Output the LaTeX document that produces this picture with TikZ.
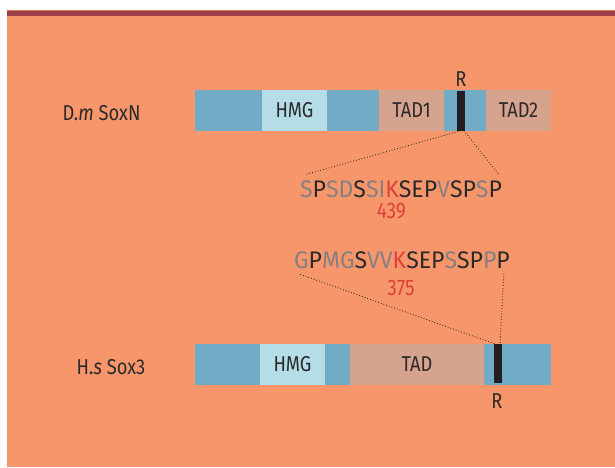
\documentclass[tikz,border=0pt]{standalone}
\usepackage{fontspec}
\setmainfont{Fira Sans}
\newfontfamily\labfont{Fira Sans}[FakeStretch=0.85]
\newfontfamily\seqfont{Fira Sans}[FakeStretch=0.96]
\usetikzlibrary{calc}
\definecolor{bgorange}{HTML}{F7966B}
\definecolor{stripe}{HTML}{9E4049}
\definecolor{stripeline}{HTML}{E07850}
\definecolor{segblue}{HTML}{72ABC6}
\definecolor{seglight}{HTML}{B5DDE8}
\definecolor{segtan}{HTML}{D6A48E}
\definecolor{barblack}{HTML}{231F20}
\definecolor{txt}{HTML}{2A2A2A}
\definecolor{seqgray}{HTML}{858080}
\definecolor{seqred}{HTML}{E0403A}
\newcommand\gy[1]{\textcolor{seqgray}{#1}}
\newcommand\bk[1]{\textcolor{txt}{#1}}
\newcommand\rd[1]{\textcolor{seqred}{#1}}
\begin{document}
\begin{tikzpicture}[x=1pt,y=-1pt,
  seg/.style={inner sep=0pt, outer sep=0pt, minimum height=41pt, anchor=north west, text=txt,
    font=\labfont\fontsize{21.5}{22}\selectfont},
  rbar/.style={inner sep=0pt, outer sep=0pt, minimum width=8pt, fill=barblack, anchor=north west},
  lab/.style={inner sep=0pt, outer sep=0pt, anchor=base, text=txt, font=\labfont\fontsize{21.5}{22}\selectfont},
  seqtext/.style={inner sep=0pt, outer sep=0pt, anchor=base, font=\seqfont\fontsize{24}{25}\selectfont},
  numtext/.style={inner sep=0pt, outer sep=0pt, anchor=base, text=seqred, font=\labfont\fontsize{22.5}{23}\selectfont},
  link/.style={draw=txt, line width=0.85pt, dotted}
]
\useasboundingbox (0,0) rectangle (615,467);
\fill[white] (0,0) rectangle (615,467);
\fill[bgorange] (7,9.7) rectangle (615,467);
\fill[stripeline] (7,9.7) rectangle (615,10.7);
\fill[stripe] (7,10.7) rectangle (615,16);

% top protein
\node[seg, fill=segblue, minimum width=67pt] (b1) at (195,90) {};
\node[seg, fill=seglight, minimum width=65pt] (hmg1) at (262,90) {HMG};
\node[seg, fill=segblue, minimum width=52pt] (b2) at (327,90) {};
\node[seg, fill=segtan, minimum width=65pt] (tad1) at (379,90) {TAD1};
\node[seg, fill=segblue, minimum width=42pt] (b3) at (444,90) {};
\node[seg, fill=segtan, minimum width=65pt] (tad2) at (486,90) {TAD2};
\node[rbar, minimum height=40pt] (r1) at (457,90.7) {};
\node[lab] (rl1) at (461,86.7) {R};
\node[lab] (dm) at (101.5,120.7) {D.\textit{m} SoxN};

% sequences
\node[seqtext] (seq1) at (401,197.5) {\gy{S}\bk{P}\gy{S}\gy{D}\bk{S}\gy{S}\gy{I}\rd{K}\bk{S}\bk{E}\bk{P}\gy{V}\bk{S}\bk{P}\gy{S}\bk{P}};
\node[numtext] (n439) at (391.4,218.5) {439};
\node[seqtext] (seq2) at (402,268.5) {\gy{G}\bk{P}\gy{M}\gy{G}\bk{S}\gy{V}\gy{V}\rd{K}\bk{S}\bk{E}\bk{P}\gy{S}\bk{S}\bk{P}\gy{P}\bk{P}};
\node[numtext] (n375) at (401,295) {375};

% bottom protein
\node[seg, fill=segblue, minimum width=65pt] (c1) at (195,344) {};
\node[seg, fill=seglight, minimum width=65pt] (hmg2) at (260,344) {HMG};
\node[seg, fill=segblue, minimum width=25pt] (c2) at (325,344) {};
\node[seg, fill=segtan, minimum width=134pt] (tad) at (350,344) {TAD};
\node[seg, fill=segblue, minimum width=67pt] (c3) at (484,344) {};
\node[rbar, minimum height=39.3pt] (r2) at (494,344) {};
\node[lab] (rl2) at (497,408) {R};
\node[lab] (hs) at (111,374) {H.\textit{s} Sox3};

% connectors
\draw[link] ($(r1.south)+(0,0)$) -- ($(seq1.north west)+(5,-6)$);
\draw[link] ($(r1.south)+(3,0)$) -- ($(seq1.north east)+(-3,-6)$);
\draw[link] ($(seq2.south west)+(6,5.5)$) -- ($(r2.north)+(-3,0)$);
\draw[link] ($(seq2.south east)+(-6,5)$) -- ($(r2.north)+(2,0)$);
\end{tikzpicture}
\end{document}
